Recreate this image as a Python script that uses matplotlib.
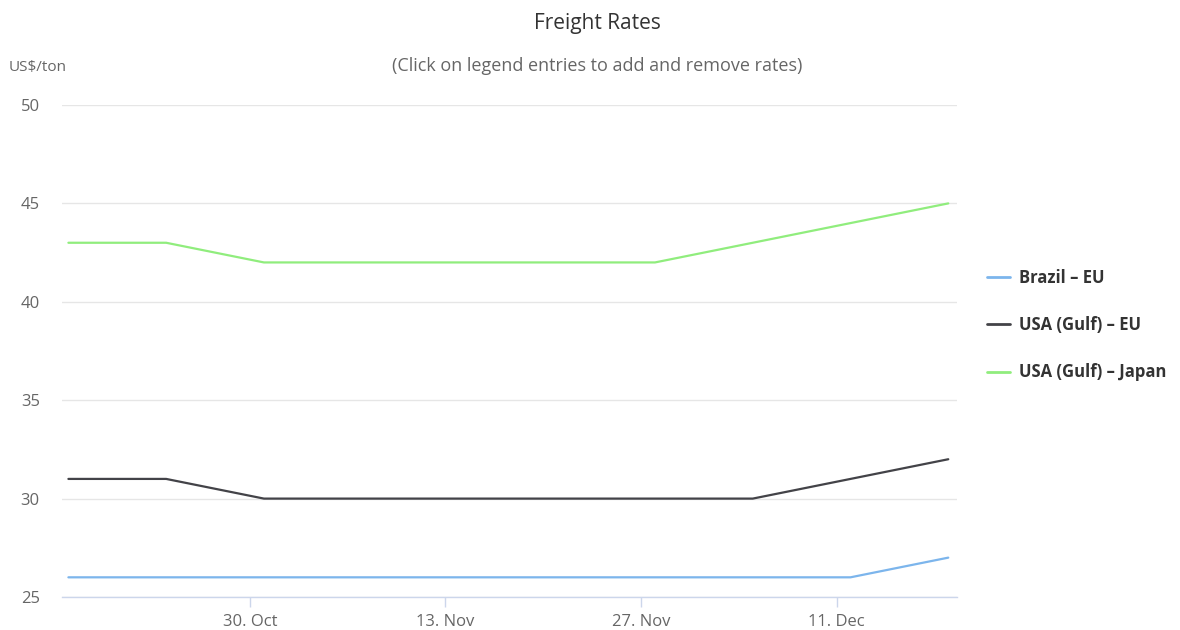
import matplotlib
matplotlib.use("Agg")
import matplotlib.pyplot as plt
import matplotlib.dates as mdates
import pandas as pd

plt.rcParams['font.family'] = ['Open Sans', 'DejaVu Sans']

dates = pd.to_datetime(["2023-10-17", "2023-10-24", "2023-10-31", "2023-11-07", "2023-11-14",
                        "2023-11-21", "2023-11-28", "2023-12-05", "2023-12-12", "2023-12-19"])
brazil_eu = [26, 26, 26, 26, 26, 26, 26, 26, 26, 27]
usa_gulf_eu = [31, 31, 30, 30, 30, 30, 30, 30, 31, 32]
usa_gulf_japan = [43, 43, 42, 42, 42, 42, 42, 43, 44, 45]
series_names = ["Brazil – EU", "USA (Gulf) – EU", "USA (Gulf) – Japan"]
series_colors = ["#7cb5ec", "#434348", "#90ed7d"]
xtick_dates = pd.to_datetime(["2023-10-30", "2023-11-13", "2023-11-27", "2023-12-11"])
xtick_labels = ["30. Oct", "13. Nov", "27. Nov", "11. Dec"]
yticks = [25, 30, 35, 40, 45, 50]

W, H = 1180, 630
fig = plt.figure(figsize=(W / 100, H / 100), dpi=100)
ax = fig.add_axes([62 / W, 1 - 597 / H, (957 - 62) / W, (597 - 105) / H])

for vals, name, col in zip([brazil_eu, usa_gulf_eu, usa_gulf_japan], series_names, series_colors):
    ax.plot(dates, vals, color=col, lw=1.6, label=name, solid_capstyle='round', solid_joinstyle='round', zorder=3)

ax.set_ylim(25, 50)
ax.set_xlim(dates[0] - pd.Timedelta(hours=11), dates[-1] + pd.Timedelta(hours=15))
ax.set_yticks(yticks)
ax.set_yticklabels([str(v) for v in yticks])
ax.set_xticks(xtick_dates)
ax.set_xticklabels(xtick_labels)

ax.grid(axis='y', color='#e6e6e6', lw=1)
ax.grid(axis='x', visible=False)
for s in ['top', 'right', 'left']:
    ax.spines[s].set_visible(False)
ax.spines['bottom'].set_color('#ccd6eb')
ax.spines['bottom'].set_linewidth(1)
ax.tick_params(axis='y', length=0, pad=16, labelsize=12, labelcolor='#666666')
ax.tick_params(axis='x', length=7, width=1, color='#ccd6eb', pad=5, labelsize=12, labelcolor='#666666')

fig.text(597 / W, 1 - 24 / H, "Freight Rates", ha='center', va='center', fontsize=15, color='#333333')
fig.text(597 / W, 1 - 66 / H, "(Click on legend entries to add and remove rates)", ha='center', va='center',
         fontsize=13, color='#666666')
fig.text(9 / W, 1 - 68 / H, "US$/ton", ha='left', va='center', fontsize=11, color='#666666')

leg = fig.legend(loc='upper left', bbox_to_anchor=(972 / W, 1 - 254 / H), frameon=False,
                 prop={'weight': 'bold', 'size': 12}, labelcolor='#333333',
                 handlelength=1.4, handletextpad=0.5, labelspacing=1.75)
for line in leg.get_lines():
    line.set_linewidth(2)

fig.savefig("out.png", dpi=100)
